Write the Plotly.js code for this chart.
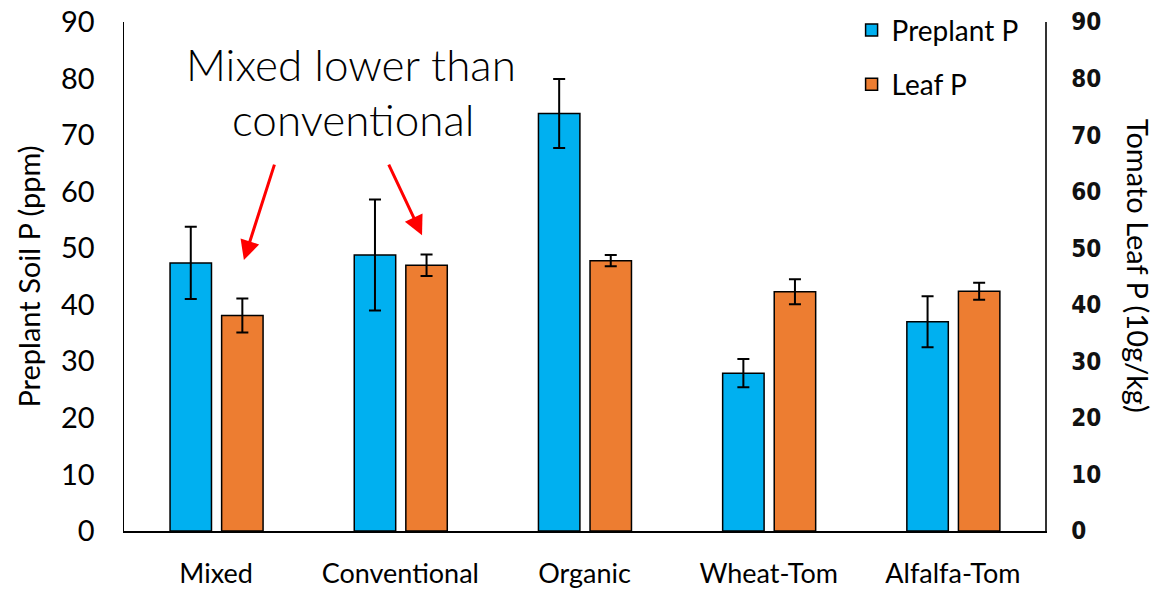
<!DOCTYPE html>
<html>
<head>
<meta charset="utf-8">
<script src="https://cdn.plot.ly/plotly-3.0.1.min.js"></script>
<style>html,body{margin:0;padding:0;background:#fff;}#chart{width:1158px;height:591px;}</style>
</head>
<body>
<div id="chart"></div>
<script>
const categories = ["Mixed", "Conventional", "Organic", "Wheat-Tom", "Alfalfa-Tom"];
const preplantP = [47.4, 48.8, 73.8, 27.9, 37.0];
const preplantErr = [6.4, 9.8, 6.1, 2.5, 4.5];
const leafP = [38.1, 47.0, 47.8, 42.3, 42.4];
const leafErr = [3.0, 1.9, 1.0, 2.2, 1.5];
const yTicks = [0, 10, 20, 30, 40, 50, 60, 70, 80, 90];

const FONT = "Lato, 'Open Sans', sans-serif";

const traces = [
  {
    type: "bar", name: "Preplant P", x: categories, y: preplantP,
    yaxis: "y", legendgroup: "a",
    width: 0.225, offset: -0.25,
    marker: {color: "#00B0F0", line: {color: "#000", width: 1.5}},
    error_y: {type: "data", array: preplantErr, visible: true, color: "#000", thickness: 2, width: 6}
  },
  {
    type: "bar", name: "Leaf P", x: categories, y: leafP,
    yaxis: "y2", legendgroup: "b",
    width: 0.225, offset: 0.03,
    marker: {color: "#ED7D31", line: {color: "#000", width: 1.5}},
    error_y: {type: "data", array: leafErr, visible: true, color: "#000", thickness: 2, width: 6}
  }
];

const layout = {
  width: 1158, height: 591,
  margin: {l: 124, r: 113, t: 22, b: 60, autoexpand: false},
  paper_bgcolor: "#fff", plot_bgcolor: "#fff",
  showlegend: true,
  barmode: "overlay",
  font: {family: FONT, color: "#000"},
  legend: {
    x: 0.79, xanchor: "left", y: 1.033, yanchor: "top",
    font: {family: FONT, size: 28, color: "#000"},
    traceorder: "grouped", tracegroupgap: 15,
    itemwidth: 30,
    bgcolor: "rgba(0,0,0,0)"
  },
  xaxis: {
    type: "category", categoryarray: categories, range: [-0.5, 4.5],
    showline: true, linecolor: "#000", linewidth: 2,
    ticks: "", showgrid: false, zeroline: false,
    tickfont: {family: FONT, size: 27, color: "#000"},
    ticklabelstandoff: 18
  },
  yaxis: {
    range: [0, 90], tickvals: yTicks, ticktext: yTicks.map(String),
    showline: true, linecolor: "#000", linewidth: 1.5,
    ticks: "", showgrid: false, zeroline: false,
    tickfont: {family: FONT, size: 29, color: "#000"},
    ticklabelstandoff: 22,
    title: {text: "Preplant Soil P (ppm)", font: {family: FONT, size: 29, color: "#000"}, standoff: 12}
  },
  yaxis2: {
    overlaying: "y", side: "right",
    range: [0, 90], tickvals: yTicks, ticktext: yTicks.map(String),
    showline: true, linecolor: "#333", linewidth: 1.5,
    ticks: "", showgrid: false, zeroline: false,
    tickfont: {family: "'Liberation Sans Narrow', 'DejaVu Sans Condensed', sans-serif", size: 24, color: "#111", weight: "bold"},
    ticklabelstandoff: 20
  },
  annotations: [
    {xref: "paper", yref: "paper", x: 1.1015, y: 0.52, text: "Tomato Leaf P (10g/kg)", textangle: 90,
     showarrow: false, font: {family: FONT, size: 29, color: "#000"}, xanchor: "center", yanchor: "middle"},
    {xref: "x", yref: "y", x: 0.735, y: 82.5, text: "Mixed lower than", showarrow: false,
     font: {family: FONT, size: 44, color: "#000", weight: 300}, xanchor: "center", yanchor: "middle"},
    {xref: "x", yref: "y", x: 0.745, y: 72.8, text: "conventional", showarrow: false,
     font: {family: FONT, size: 44, color: "#000", weight: 300}, xanchor: "center", yanchor: "middle"},
    {xref: "x", yref: "y", x: 0.151, y: 47.9, text: "", showarrow: true, ax: 31, ay: -97,
     arrowcolor: "#FF0000", arrowwidth: 3, arrowhead: 2, arrowsize: 1.3, standoff: 0},
    {xref: "x", yref: "y", x: 1.118, y: 52.3, text: "", showarrow: true, ax: -34, ay: -72,
     arrowcolor: "#FF0000", arrowwidth: 3, arrowhead: 2, arrowsize: 1.3, standoff: 0}
  ]
};

Plotly.newPlot("chart", traces, layout, {displayModeBar: false, staticPlot: true});
</script>
</body>
</html>
